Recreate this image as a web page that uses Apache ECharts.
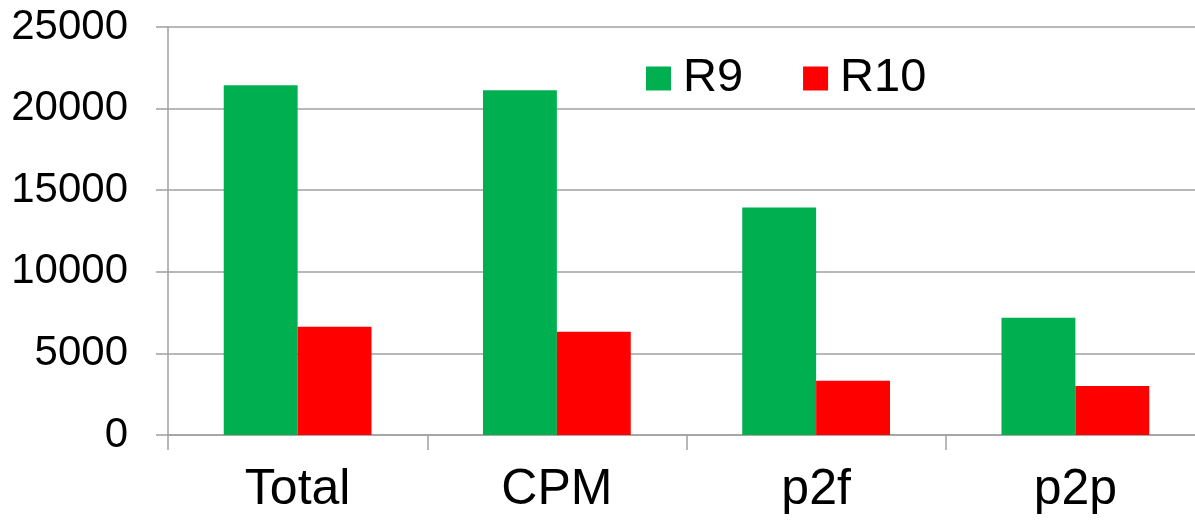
<!DOCTYPE html>
<html>
<head>
<meta charset="utf-8">
<script src="https://cdn.jsdelivr.net/npm/echarts@6/dist/echarts.min.js"></script>
<style>
  html, body { margin: 0; padding: 0; background: #fff; }
  #chart { width: 1195px; height: 520px; }
</style>
</head>
<body>
<div id="chart"></div>
<script>
const categories = ['Total', 'CPM', 'p2f', 'p2p']
const r9 = [21430, 21130, 13940, 7190]
const r10 = [6630, 6330, 3320, 3010]

const AXIS_GRAY = '#a0a0a0'
const FONT = 'Liberation Sans, Arial, sans-serif'

const chart = echarts.init(document.getElementById('chart'))

chart.setOption({
  animation: false,
  textStyle: { fontFamily: FONT },
  legend: {
    left: 641,
    top: 50,
    itemWidth: 25,
    itemHeight: 24,
    itemGap: 60,
    icon: 'rect',
    textStyle: { fontSize: 47, color: '#000', fontFamily: FONT, padding: [0, 0, 0, 7] },
    data: ['R9', 'R10']
  },
  // plot area runs a little past the right edge of the picture
  grid: { left: 168, right: -10, top: 27, bottom: 85, containLabel: false, outerBoundsMode: 'none' },
  xAxis: {
    type: 'category',
    data: categories,
    axisLine: { lineStyle: { color: AXIS_GRAY, width: 1.5 } },
    axisTick: { show: true, length: 15, lineStyle: { color: AXIS_GRAY, width: 1.5 } },
    axisLabel: { fontSize: 50, color: '#000', margin: 30, fontFamily: FONT }
  },
  yAxis: {
    type: 'value',
    min: 0,
    max: 25000,
    interval: 5000,
    axisLine: { show: true, lineStyle: { color: AXIS_GRAY, width: 1.5 } },
    axisTick: { show: true, length: 12, lineStyle: { color: AXIS_GRAY, width: 1.5 } },
    splitLine: { lineStyle: { color: AXIS_GRAY, width: 1.5 } },
    axisLabel: { fontSize: 42, color: '#000', margin: 40, fontFamily: FONT, formatter: (v) => String(v) }
  },
  series: [
    {
      name: 'R9',
      type: 'bar',
      data: r9,
      barGap: '0%',
      barCategoryGap: '43%',
      itemStyle: { color: '#00b050' }
    },
    {
      name: 'R10',
      type: 'bar',
      data: r10,
      itemStyle: { color: '#ff0000' }
    }
  ]
})
</script>
</body>
</html>
